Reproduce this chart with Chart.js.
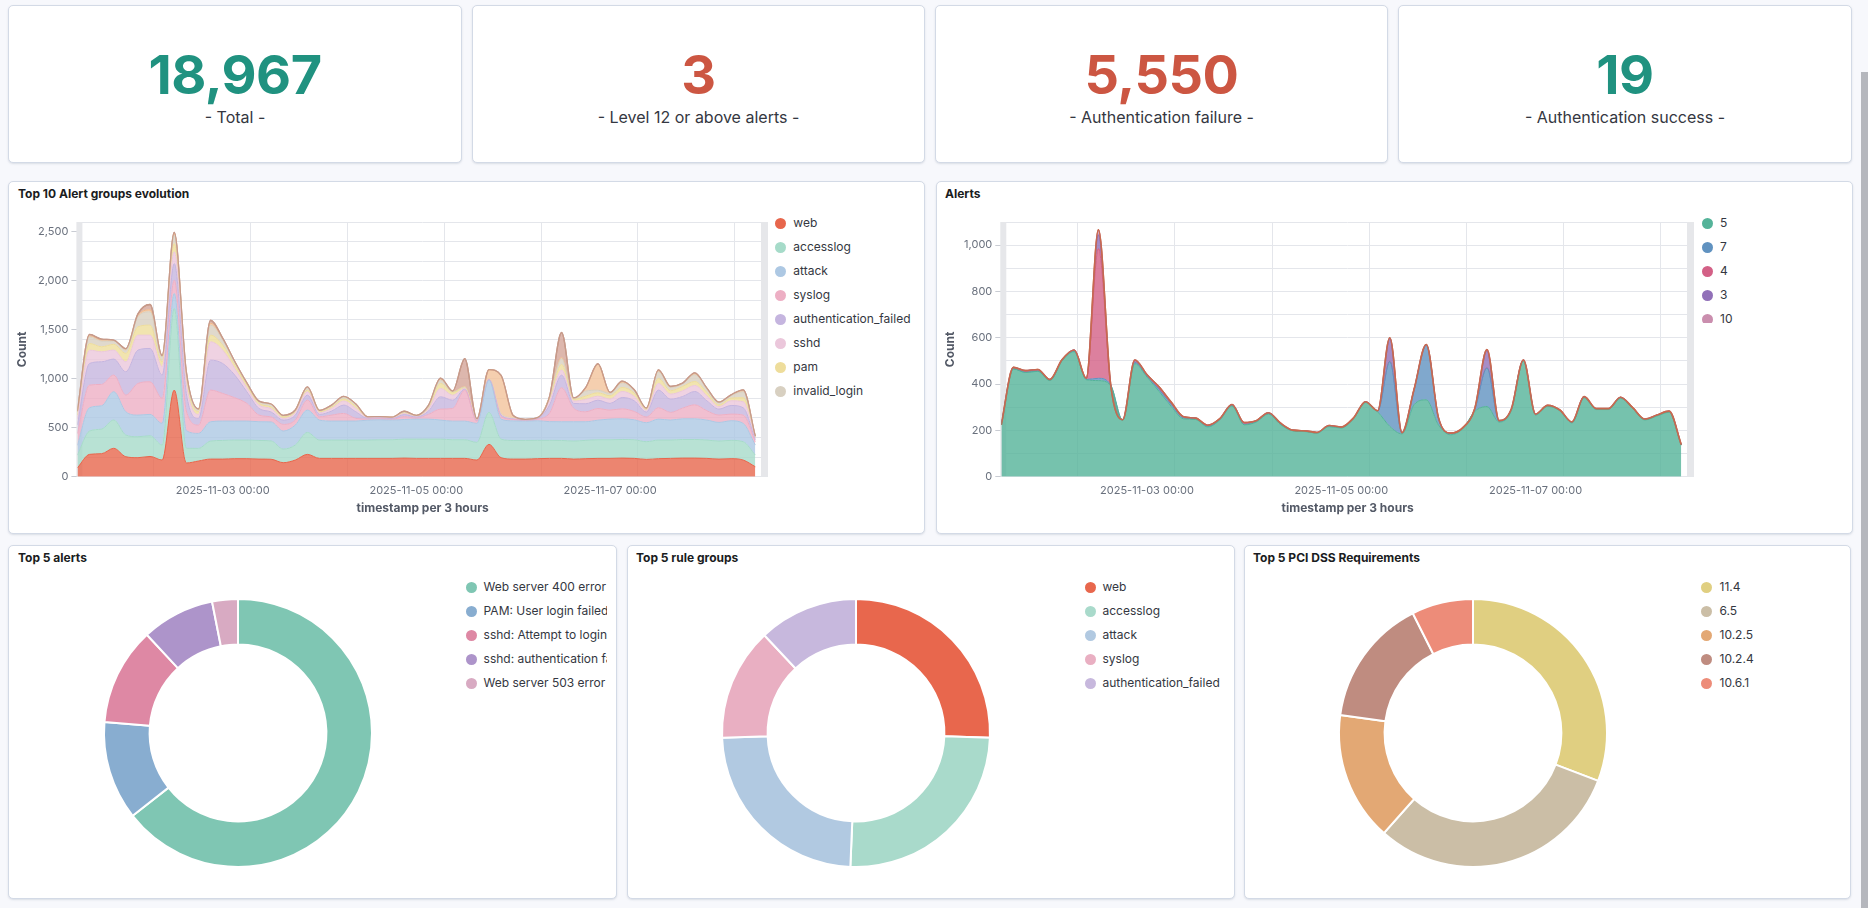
<!DOCTYPE html>
<html><head><meta charset="utf-8">
<script src="https://cdn.jsdelivr.net/npm/chart.js@4.4.1/dist/chart.umd.min.js"></script>
<style>
html,body{margin:0;padding:0}
body{width:1868px;height:908px;background:#f7f8fc;position:relative;overflow:hidden;font-family:Inter,'Noto Sans',sans-serif;color:#343741}
.panel{position:absolute;background:#fff;border:1px solid #d3dae6;border-radius:5px;box-shadow:0 1px 2px rgba(152,162,179,.3);box-sizing:border-box}
.title{position:absolute;font-size:12px;font-weight:700;color:#1a1c21;line-height:16px;white-space:nowrap}
.metric{position:absolute;text-align:center;white-space:nowrap}
.num{font-size:54px;font-weight:700;line-height:60px;letter-spacing:-0.5px}
.sub{font-size:16px;line-height:20px;color:#343741}
.legend{position:absolute;overflow:hidden}
.li{position:absolute;left:0;height:24px;white-space:nowrap;font-size:12px;line-height:24px;color:#343741}
.dot{position:absolute;width:11px;height:11px;border-radius:50%;top:6.5px;left:0}
.li .t{position:absolute;left:13px;top:0}
canvas{position:absolute}
.scroll{position:absolute;left:1861px;top:72px;width:7px;height:836px;background:#b5b7bd}
</style>
</head><body>
<script>
// ---------------- DATA ----------------
const metricValues = [18967, 3, 5550, 19];
const metricLabels = ['- Total -', '- Level 12 or above alerts -', '- Authentication failure -', '- Authentication success -'];

const timeLabels = [];
for (let i = 0; i < 57; i++) {
  const d = new Date(Date.UTC(2025, 10, 1, 12 + 3 * i));
  timeLabels.push(d.toISOString().slice(0, 16).replace('T', ' '));
}
const tickLabels = ['2025-11-03 00:00', '2025-11-05 00:00', '2025-11-07 00:00'];

const groupNames = ['web','accesslog','attack','syslog','authentication_failed','sshd','pam','invalid_login','recon','sudo'];
const groupColors = ['#E7664C','#A6DBC9','#ADC8E3','#EDAFC4','#C5B5DF','#EBC7DB','#EEDD9B','#D8D0C1','#F3C39B','#D4A598'];
const groupLines  = ['#E7664C','#A6DBC9','#ADC8E3','#EDAFC4','#C5B5DF','#EBC7DB','#EEDD9B','#D8D0C1','#F0B888','#C79A8A'];

const web = [90,228,235,290,204,194,207,170,884,140,160,180,180,184,184,180,178,143,170,228,187,187,187,187,187,187,187,190,187,187,187,187,187,170,330,194,180,180,184,187,187,180,184,187,187,190,187,177,184,187,190,190,187,180,184,170,102];
const accesslog = [130,238,251,289,221,214,211,153,833,150,129,184,190,190,190,190,187,139,153,224,187,187,187,187,187,190,190,194,197,197,197,190,190,180,326,190,190,190,187,184,183,184,187,190,190,190,190,180,190,187,190,190,187,184,187,187,119];
const attack = [100,238,238,289,238,221,218,221,153,180,153,197,198,194,194,191,194,184,204,228,204,194,194,194,204,204,200,200,204,204,194,190,190,194,330,204,200,197,200,191,191,197,190,200,211,211,204,194,214,204,211,211,204,190,200,187,102];
const syslog = [120,231,218,170,170,323,333,255,136,200,85,323,282,238,180,68,51,68,51,102,34,61,78,27,10,10,8,30,10,48,112,129,316,20,5,24,15,5,15,85,347,136,102,119,92,102,85,58,116,78,109,143,95,75,68,85,34];
const authFailed = [90,221,231,163,238,340,340,238,170,180,68,306,306,231,119,68,51,44,51,51,24,41,85,68,8,8,8,20,10,34,126,85,10,8,3,17,5,3,5,85,129,51,82,85,68,116,109,51,180,136,119,136,102,61,88,75,20];
const sshd = [60,136,102,92,102,153,136,85,119,100,40,187,136,68,41,34,34,17,24,34,17,27,41,34,5,5,5,10,5,20,85,51,7,5,2,10,5,2,3,41,51,24,44,41,44,61,44,17,68,51,58,61,51,24,48,61,15];
const pam = [40,68,51,58,85,85,102,50,85,50,30,68,51,34,27,17,17,17,10,17,10,14,20,20,3,3,3,8,3,10,51,27,7,3,2,5,3,2,2,20,58,17,34,34,34,41,34,10,51,34,44,41,34,17,27,41,8];
const invalidLogin = [30,68,58,34,34,102,136,50,85,50,20,102,51,27,17,17,24,10,14,24,10,14,20,20,3,3,3,8,5,20,34,7,10,5,2,5,3,2,2,14,61,7,51,27,24,44,24,7,68,34,24,68,34,24,24,61,8];
const recon = [5,10,10,5,5,10,20,5,15,10,3,20,10,5,3,3,3,2,2,3,2,3,3,3,2,2,2,3,2,3,10,3,5,2,92,380,20,3,2,5,10,3,34,265,5,10,5,3,10,5,5,10,5,3,5,10,3];
const sudo = [5,14,10,5,10,20,55,10,15,10,3,30,10,5,3,3,3,2,2,5,2,3,5,3,2,2,2,5,3,5,10,5,282,3,2,5,3,2,2,5,255,5,5,5,5,10,5,3,10,5,5,10,5,3,5,10,3];

const levelNames = ['5','7','4','3','10','12'];
const levelColors = ['#54B399','#6092C0','#D36086','#9170B8','#CA8EAE','#C8694F'];
const level5 = [224,465,450,455,415,500,540,419,415,395,243,488,430,368,303,250,247,215,245,305,224,236,270,225,198,195,188,216,210,250,320,280,217,185,311,332,224,181,207,282,303,236,285,500,266,304,284,232,340,290,290,338,294,245,262,278,136];
const level7 = [0,1,1,1,1,1,2,1,10,2,1,5,4,8,8,4,2,2,2,3,2,2,2,2,1,1,1,2,2,1,2,3,281,3,65,236,29,5,2,10,167,4,4,2,2,2,2,2,3,2,2,3,2,2,2,3,1];
const level4 = [0,1,1,1,1,1,1,4,560,2,1,2,2,3,3,2,2,3,2,2,4,2,2,2,1,1,1,2,1,1,1,1,1,1,1,1,1,1,1,1,1,1,1,1,1,1,1,1,1,1,1,1,1,1,1,1,1];
const level3 = [0,5,6,6,3,3,4,1,60,1,1,8,4,7,6,3,2,2,2,2,3,2,2,2,1,1,1,1,1,1,1,1,98,1,1,1,1,1,1,2,75,1,1,1,1,1,1,1,1,1,1,1,1,1,1,1,0];
const level10 = [0,0,0,0,0,0,0,0,20,0,0,1,0,1,1,0,0,0,0,0,1,0,0,0,0,0,0,0,0,0,0,0,2,0,0,1,0,0,0,0,2,0,0,0,0,0,0,0,1,0,0,0,0,0,0,0,0];
const level12 = [0,0,0,0,0,0,0,0,1,0,0,0,0,0,0,0,0,0,0,0,0,0,0,0,0,0,0,0,0,0,0,0,1,0,0,0,0,0,0,0,1,0,0,0,0,0,0,0,0,0,0,0,0,0,0,0,0];

const alertNames = ['Web server 400 error code.','PAM: User login failed.','sshd: Attempt to login using a non-existent user','sshd: authentication failed.','Web server 503 error code.'];
const alertCounts = [5600, 1035, 1026, 765, 270];
const alertColors = ['#7FC6B3','#88ADD0','#DE88A4','#AD94CA','#D8AAC2'];

const ruleNames = ['web','accesslog','attack','syslog','authentication_failed'];
const ruleCounts = [9900, 9720, 9200, 5260, 4640];
const ruleColors = ['#E8674D','#A9DACB','#B1C9E1','#E9AFC2','#C7B8DD'];

const pciNames = ['11.4','6.5','10.2.5','10.2.4','10.6.1'];
const pciCounts = [5110, 5100, 2580, 2560, 1230];
const pciColors = ['#E0CF81','#CBBEA6','#E3A874','#BF8C80','#ED8C79'];

// ---------------- LAYOUT ----------------
function el(tag, cls, style, html) {
  const e = document.createElement(tag);
  if (cls) e.className = cls;
  Object.assign(e.style, style || {});
  if (html !== undefined) e.textContent = html;
  document.body.appendChild(e);
  return e;
}
function px(v) { return v + 'px'; }
function panel(x1, y1, x2, y2) { el('div', 'panel', {left: px(x1), top: px(y1), width: px(x2 - x1), height: px(y2 - y1)}); }
function title(x, yc, text) { el('div', 'title', {left: px(x), top: px(yc - 8)}, text); }

const cards = [[8,5,462,163],[472,5,925,163],[935,5,1388,163],[1398,5,1852,163]];
const metricColors = ['#209280','#CC5642','#CC5642','#209280'];
cards.forEach(c => panel(...c));
panel(8,181,925,534); panel(936,181,1853,534);
panel(8,545,617,899); panel(627,545,1235,899); panel(1244,545,1851,899);
el('div','scroll',{});

cards.forEach((c, i) => {
  el('div', 'metric num', {left: px(c[0]), width: px(c[2]-c[0]), top: px(45), color: metricColors[i]}, metricValues[i].toLocaleString('en-US'));
  el('div', 'metric sub', {left: px(c[0]), width: px(c[2]-c[0]), top: px(107)}, metricLabels[i]);
});

title(18, 194, 'Top 10 Alert groups evolution');
title(945, 194, 'Alerts');
title(18, 558, 'Top 5 alerts');
title(636, 558, 'Top 5 rule groups');
title(1253, 558, 'Top 5 PCI DSS Requirements');

function legend(names, colors, dotX, textX, y0, clipTop, clipBottom, clipRight, count) {
  const box = el('div', 'legend', {left: px(dotX - 6), top: px(clipTop), width: px(clipRight - dotX + 6), height: px(clipBottom - clipTop)});
  for (let i = 0; i < count; i++) {
    const li = document.createElement('div');
    li.className = 'li';
    li.style.top = px(y0 + 24 * i - 12 - clipTop);
    li.style.left = '0.5px';
    const d = document.createElement('div'); d.className = 'dot'; d.style.background = colors[i];
    const t = document.createElement('div'); t.className = 't'; t.style.left = px(textX - dotX + 5.5); t.textContent = names[i];
    li.appendChild(d); li.appendChild(t); box.appendChild(li);
  }
}
legend(groupNames, groupColors, 780.7, 793.3, 223.3, 211, 401, 924, 8);
legend(levelNames, levelColors, 1707, 1720, 223.3, 211, 323, 1850, 5);
legend(alertNames, alertColors, 471.7, 483.6, 587.3, 570, 700, 607.5, 5);
legend(ruleNames, ruleColors, 1090, 1102.5, 587.3, 570, 700, 1232, 5);
legend(pciNames, pciColors, 1706.5, 1719.5, 587.3, 570, 700, 1848, 5);

function canvas(x, y, w, h) {
  const c = document.createElement('canvas');
  c.width = w; c.height = h;
  c.style.left = px(x); c.style.top = px(y); c.style.width = px(w); c.style.height = px(h);
  document.body.appendChild(c);
  return c;
}

// ---------------- CHARTS ----------------
Chart.defaults.font.family = 'Inter';
Chart.defaults.color = '#69707d';

function hexA(h, a) { const n = parseInt(h.slice(1), 16); return 'rgba(' + (n >> 16) + ',' + ((n >> 8) & 255) + ',' + (n & 255) + ',' + a + ')'; }

const tickIdx = tickLabels.map(l => timeLabels.indexOf(l));
const gridPos = [6.3, 14.3, 22.3, 30.3, 38.3, 46.3, 54.3];

const stripPlugin = {
  id: 'strips',
  beforeDatasetsDraw(chart) {
    const {ctx, chartArea: a} = chart;
    ctx.save();
    ctx.fillStyle = '#e6e7ea';
    ctx.fillRect(a.left - 1, a.top, 6, a.bottom - a.top);
    ctx.fillRect(a.right - 7, a.top, 7, a.bottom - a.top);
    ctx.restore();
  },
  afterDatasetsDraw(chart) {
    const meta = chart.getDatasetMeta(chart.data.datasets.length - 1);
    const a = chart.chartArea;
    chart.ctx.save();
    chart.ctx.beginPath(); chart.ctx.rect(a.left, a.top - 2, a.right - a.left, a.bottom - a.top + 2); chart.ctx.clip();
    meta.dataset.draw(chart.ctx, a);
    chart.ctx.restore();
  }
};

function areaChart(cv, names, colors, lines, series, yMax, labelStep, gridStep, padRight, yWidth, lastWidth) {
  const datasets = series.map((vals, k) => ({
    label: names[k],
    data: vals.map((v, i) => ({x: i, y: v})),
    backgroundColor: hexA(colors[k], 0.8),
    borderColor: lines[k],
    borderWidth: k === series.length - 1 ? lastWidth : 1,
    fill: k === 0 ? 'origin' : '-1',
    pointRadius: 0,
    cubicInterpolationMode: 'monotone'
  }));
  return new Chart(cv, {
    type: 'line',
    data: {datasets},
    plugins: [stripPlugin],
    options: {
      responsive: false, animation: false, events: [],
      layout: {padding: {left: 3, top: 21, right: padRight, bottom: 13}},
      plugins: {legend: {display: false}, tooltip: {enabled: false}},
      scales: {
        x: {
          type: 'linear', min: 0, max: 57.05,
          afterBuildTicks: s => { s.ticks = gridPos.concat(tickIdx).sort((a, b) => a - b).map(v => ({value: v})); },
          afterFit: s => { s.height = 44.3; },
          ticks: {autoSkip: false, maxRotation: 0, padding: 7, font: {size: 11}, color: '#69707d',
            callback: v => { const j = tickIdx.indexOf(v); return j >= 0 ? tickLabels[j] : ''; }},
          grid: {drawTicks: false, color: c => (c.tick && tickIdx.includes(c.tick.value)) ? 'rgba(0,0,0,0)' : '#e4e6eb'},
          border: {display: false},
          title: {display: true, text: 'timestamp per 3 hours', color: '#535966', font: {size: 12, weight: '700'}, padding: {top: 0, bottom: 5}}
        },
        y: {
          stacked: true, min: 0, max: yMax,
          afterBuildTicks: s => { const t = []; for (let v = 0; v <= yMax; v += 100) t.push({value: v}); s.ticks = t; },
          afterFit: s => { s.width = yWidth; },
          ticks: {autoSkip: false, padding: 3, font: {size: 11}, color: '#69707d',
            callback: v => v % labelStep === 0 ? v.toLocaleString('en-US') : ''},
          grid: {tickLength: 6,
            color: c => (c.tick && c.tick.value % gridStep === 0) ? '#e4e6eb' : 'rgba(0,0,0,0)',
            tickColor: c => (c.tick && c.tick.value % labelStep === 0) ? '#c9ccd3' : 'rgba(0,0,0,0)'},
          border: {display: false},
          title: {display: true, text: 'Count', color: '#535966', font: {size: 12, weight: '700'}, padding: {top: 4, bottom: 0}}
        }
      }
    }
  });
}

areaChart(canvas(8, 201, 917, 333), groupNames, groupColors, groupLines,
  [web, accesslog, attack, syslog, authFailed, sshd, pam, invalidLogin, recon, sudo], 2600, 500, 200, 157, 66.4, 1.3);
areaChart(canvas(936, 201, 917, 333), levelNames, levelColors, levelColors,
  [level5, level7, level4, level3, level10, level12], 1100, 200, 100, 159, 62.3, 1.6);

function donut(cx, cy, names, counts, colors) {
  const cv = canvas(cx - 145, cy - 145, 290, 290);
  new Chart(cv, {
    type: 'doughnut',
    data: {labels: names, datasets: [{data: counts, backgroundColor: colors, borderColor: '#ffffff', borderWidth: 2}]},
    options: {responsive: false, animation: false, events: [], radius: 134, cutout: 95,
      layout: {padding: 0}, plugins: {legend: {display: false}, tooltip: {enabled: false}}}
  });
}
donut(238, 733, alertNames, alertCounts, alertColors);
donut(856, 733, ruleNames, ruleCounts, ruleColors);
donut(1473, 733, pciNames, pciCounts, pciColors);
</script>
</body></html>
